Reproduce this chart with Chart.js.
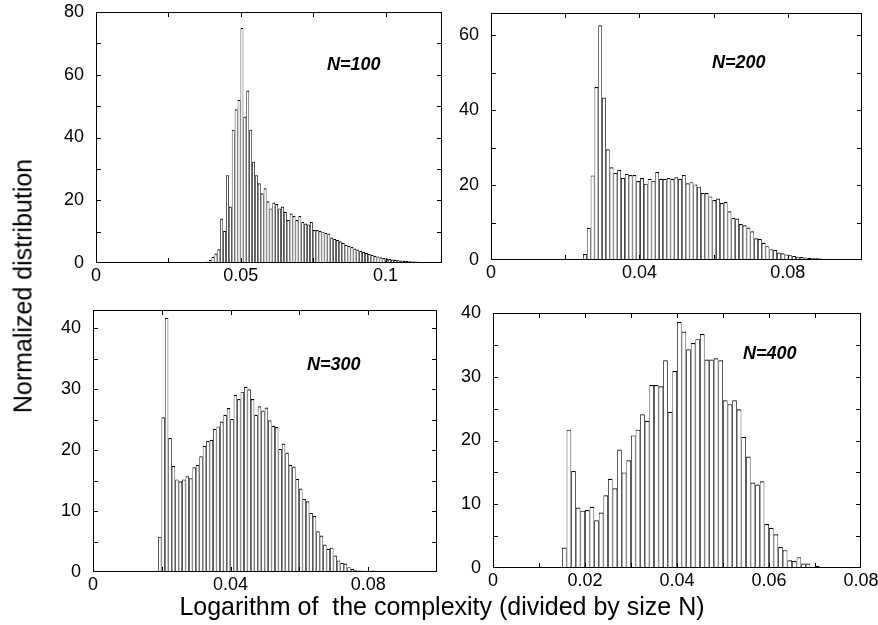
<!DOCTYPE html>
<html>
<head>
<meta charset="utf-8">
<script src="https://cdn.jsdelivr.net/npm/chart.js@4.4.0/dist/chart.umd.min.js"></script>
<style>
  html, body { margin: 0; padding: 0; background: #fff; overflow: hidden; }
  #page { position: relative; width: 878px; height: 625px; font-family: 'Liberation Sans', Arial, Helvetica, sans-serif; }
  canvas { position: absolute; left: 0; top: 0; }
  .lbl { position: absolute; white-space: pre; color: #000; }
  .tag { font-size: 18px; line-height: 18px; font-weight: bold; font-style: italic; }
  .title { font-size: 25px; line-height: 25px; }
</style>
</head>
<body>
<div id="page">
  <canvas id="c100" width="878" height="625"></canvas>
  <canvas id="c200" width="878" height="625"></canvas>
  <canvas id="c300" width="878" height="625"></canvas>
  <canvas id="c400" width="878" height="625"></canvas>

  <div class="lbl tag" style="left:327px;top:55px">N=100</div>
  <div class="lbl tag" style="left:712px;top:53px">N=200</div>
  <div class="lbl tag" style="left:307px;top:355px">N=300</div>
  <div class="lbl tag" style="left:743px;top:344px">N=400</div>

  <div class="lbl title" style="left:442px;top:594px;transform:translateX(-50%)">Logarithm of  the complexity (divided by size N)</div>
  <div class="lbl title" style="left:23px;top:286px;transform:translate(-50%,-50%) rotate(-90deg)">Normalized distribution</div>
</div>

<script>
// Histogram heights, one bin per entry, left to right.
// N=100
const binWidth100 = 0.001;
const firstBin100 = 0.0374;   // centre of the first bin
const counts100 = [0.2, 0.5, 1.0, 2.0, 3.0, 4.4, 14.2, 10.3, 28, 18,
  42.5, 49, 52, 75, 46.7, 55, 42.5, 32.3, 28, 25.4,
  22.2, 23.8, 19.7, 17.4, 19.3, 18.8, 17.4, 18, 16.3, 13.7,
  15.8, 15, 13.7, 15, 13.1, 12.6, 12.3, 13.1, 10.5, 10.5,
  10.2, 10, 9.6, 9.4, 8.1, 7.7, 7.4, 6.9, 6.4, 5.8,
  5.5, 5.1, 4.6, 4.3, 3.9, 3.5, 3.2, 2.9, 2.6, 2.3,
  2.1, 1.8, 1.6, 1.4, 1.25, 1.1, 1.0, 0.9, 0.8, 0.7,
  0.6, 0.55, 0.5, 0.45, 0.4, 0.35, 0.3, 0.25, 0.2, 0.15, 0.1];
const xTicks100 = [0, 0.05, 0.1];
const yTicks100 = [0, 20, 40, 60, 80];

// N=200
const binWidth200 = 0.001025;
const firstBin200 = 0.0243;
const counts200 = [0.3, 1.6, 8.6, 22.6, 46.2, 62.7, 43.4, 29.6, 24.8, 23.3,
  24.1, 21.9, 23, 22.7, 22.7, 21.1, 21.9, 20.4, 21.7, 21.2,
  23.5, 21.7, 21.7, 21.9, 21.7, 22.1, 21.7, 22.7, 20.5, 20.8,
  20.2, 19.6, 17.9, 17.9, 17, 16, 16.4, 15.2, 15.5, 13,
  11.3, 11.1, 9.6, 9.3, 8.7, 7.7, 5.8, 5.6, 4.6, 3.7,
  2.9, 2.7, 2.0, 1.8, 1.5, 1.3, 1.1, 0.9, 0.8, 0.7,
  0.6, 0.5, 0.45, 0.4, 0.35, 0.3, 0.25, 0.2, 0.15, 0.1];
const xTicks200 = [0, 0.04, 0.08];
const yTicks200 = [0, 20, 40, 60];

// N=300
const binWidth300 = 0.001;
const firstBin300 = 0.0184;
const counts300 = [0.2, 5.8, 25.4, 41.7, 22, 17.4, 15.2, 14.9, 15.2, 15.7,
  15.4, 17.2, 17.6, 19, 20.7, 21.5, 21.7, 23.5, 23.9, 24.7,
  25.8, 26.9, 25.1, 29.1, 28.4, 29.6, 30.4, 30, 28.4, 25.8,
  27.2, 26.5, 27, 24.9, 24, 23.8, 20.2, 21.1, 19.6, 17.6,
  17.3, 15.3, 13.7, 12, 11.6, 9.7, 9.2, 6.7, 6, 4.5,
  3.8, 4, 2.7, 1.9, 1.5, 1.4, 0.8, 0.5, 0.3, 0.25,
  0.2, 0.2, 0.15, 0.25, 0.1, 0, 0.1, 0, 0, 0, 0, 0.1];
const xTicks300 = [0, 0.04, 0.08];
const yTicks300 = [0, 10, 20, 30, 40];

// N=400
const binWidth400 = 0.001;
const firstBin400 = 0.0155;
const counts400 = [3.2, 21.7, 15.2, 9.5, 9, 9.1, 9.6, 7.5, 8.7, 11.4,
  14, 12.5, 18.6, 15, 16.9, 20.8, 21.7, 24.1, 23.1, 28.7,
  28.7, 28.5, 32.6, 24.5, 30.9, 38.6, 37.1, 34.3, 35.3, 35.9,
  36.7, 32.7, 32.7, 32.9, 32.6, 26.3, 25.7, 26.3, 24.9, 20.6,
  17.5, 13.4, 13.1, 13.6, 6.9, 6.3, 5.3, 3.3, 2.8, 1.2,
  1.1, 1.7, 0.7, 0.7, 0.2, 0.3, 0, 0, 0.15, 0.1, 0, 0.15];
const xTicks400 = [0, 0.02, 0.04, 0.06, 0.08];
const yTicks400 = [0, 10, 20, 30, 40];

const PAGE_W = 878, PAGE_H = 625;
const Y_AXIS_W = 60, X_AXIS_H = 30, TICK_LEN = 5;

Chart.defaults.font.family = "'Liberation Sans', Arial, Helvetica, sans-serif";
Chart.defaults.color = '#000';

// frame box in page pixels: [left, top, right, bottom]
const panels = [
  { id: 'c100', first: firstBin100, width: binWidth100, counts: counts100,
    xMax: 0.1195, xStep: 0.025, xLabels: xTicks100, yMax: 80, yStep: 10, yLabels: yTicks100,
    box: [96, 12, 442, 263] },
  { id: 'c200', first: firstBin200, width: binWidth200, counts: counts200,
    xMax: 0.1, xStep: 0.02, xLabels: xTicks200, yMax: 66, yStep: 10, yLabels: yTicks200,
    box: [491, 13, 862, 260] },
  { id: 'c300', first: firstBin300, width: binWidth300, counts: counts300,
    xMax: 0.1, xStep: 0.02, xLabels: xTicks300, yMax: 43, yStep: 5, yLabels: yTicks300,
    box: [93, 310, 437, 572] },
  { id: 'c400', first: firstBin400, width: binWidth400, counts: counts400,
    xMax: 0.08, xStep: 0.01, xLabels: xTicks400, yMax: 40, yStep: 5, yLabels: yTicks400,
    box: [493, 313, 861, 568] }
];

function labelFor(value, list) {
  const hit = list.find(v => Math.abs(v - value) < 1e-6);
  return hit === undefined ? '' : String(hit);
}

// frame plus inward tick marks on all four sides
const frameTicks = {
  id: 'frameTicks',
  afterDatasetsDraw(chart) {
    const { ctx, chartArea: a, scales: { x, y } } = chart;
    ctx.save();
    ctx.strokeStyle = '#000';
    ctx.lineWidth = 1;
    ctx.beginPath();
    x.ticks.forEach(t => {
      const px = Math.round(x.getPixelForValue(t.value)) + 0.5;
      if (px <= a.left + 2 || px >= a.right - 2) return;
      ctx.moveTo(px, a.bottom); ctx.lineTo(px, a.bottom - TICK_LEN);
      ctx.moveTo(px, a.top); ctx.lineTo(px, a.top + TICK_LEN);
    });
    y.ticks.forEach(t => {
      const py = Math.round(y.getPixelForValue(t.value)) + 0.5;
      if (py <= a.top + 2 || py >= a.bottom - 2) return;
      ctx.moveTo(a.left, py); ctx.lineTo(a.left + TICK_LEN, py);
      ctx.moveTo(a.right, py); ctx.lineTo(a.right - TICK_LEN, py);
    });
    ctx.stroke();
    ctx.strokeRect(a.left + 0.5, a.top + 0.5, a.width - 1, a.height - 1);
    ctx.restore();
  }
};

panels.forEach(p => {
  const [left, top, right, bottom] = p.box;
  const points = p.counts.map((c, i) => ({ x: p.first + i * p.width, y: c }));
  const tickFont = { size: 18 };

  new Chart(document.getElementById(p.id), {
    type: 'bar',
    data: {
      datasets: [{
        data: points,
        backgroundColor: '#fff',
        borderColor: '#000',
        borderWidth: { left: 0.8, right: 0.8, top: 1.2, bottom: 0 },
        barPercentage: 1,
        categoryPercentage: 1,
        inflateAmount: 0
      }]
    },
    options: {
      responsive: false,
      animation: false,
      devicePixelRatio: 1,
      events: [],
      layout: {
        padding: {
          left: left - Y_AXIS_W,
          top: top,
          right: PAGE_W - right,
          bottom: PAGE_H - bottom - X_AXIS_H
        }
      },
      plugins: {
        legend: { display: false },
        tooltip: { enabled: false }
      },
      scales: {
        x: {
          type: 'linear',
          min: 0,
          max: p.xMax,
          offset: false,
          grid: { display: false, drawTicks: false },
          border: { display: false },
          ticks: {
            stepSize: p.xStep,
            includeBounds: false,
            autoSkip: false,
            maxRotation: 0,
            padding: 2,
            font: tickFont,
            callback: v => labelFor(v, p.xLabels)
          },
          afterFit(s) { s.height = X_AXIS_H; s.paddingLeft = 0; s.paddingRight = 0; }
        },
        y: {
          min: 0,
          max: p.yMax,
          grid: { display: false, drawTicks: false },
          border: { display: false },
          ticks: {
            stepSize: p.yStep,
            includeBounds: false,
            padding: 12,
            font: tickFont,
            callback: v => labelFor(v, p.yLabels)
          },
          afterFit(s) { s.width = Y_AXIS_W; s.paddingTop = 0; s.paddingBottom = 0; }
        }
      }
    },
    plugins: [frameTicks]
  });
});
</script>
</body>
</html>
